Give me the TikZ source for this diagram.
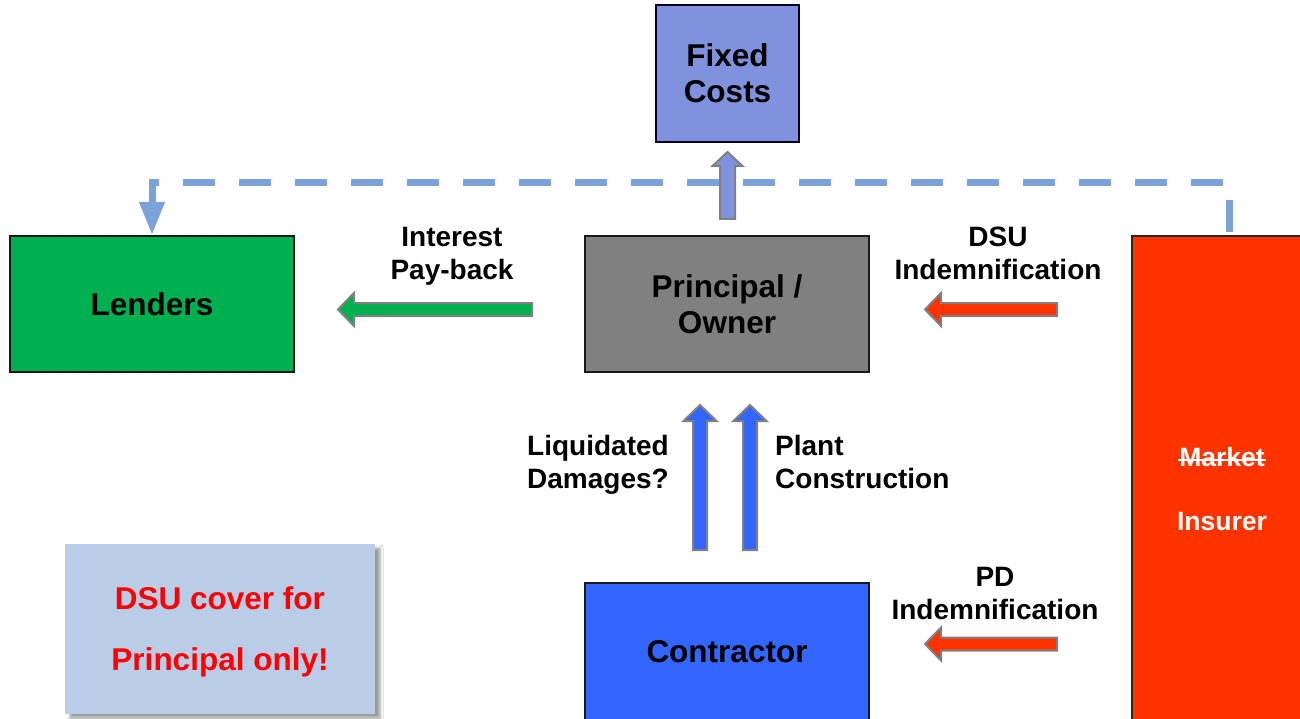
\documentclass[tikz,border=0pt]{standalone}
\usepackage{fontspec}
\setmainfont{Liberation Sans}
\usetikzlibrary{arrows.meta,shadows.blur,calc}

\definecolor{fixedblue}{HTML}{8091DE}
\definecolor{lendgreen}{HTML}{00B050}
\definecolor{ownergray}{HTML}{808080}
\definecolor{contrblue}{HTML}{3366FF}
\definecolor{insred}{HTML}{FF3300}
\definecolor{notebg}{HTML}{B9CDE9}
\definecolor{linkblue}{HTML}{7BA3DA}
\definecolor{alertred}{HTML}{FF0000}

% block arrow pointing left: fill, tail x, tip x, centre y
\newcommand\leftblockarrow[4]{%
  \draw[blockarrow, fill=#1]
    (#2,#4-6.5) -- (#3+16,#4-6.5) -- (#3+16,#4-16.5) -- (#3,#4)
    -- (#3+16,#4+16.5) -- (#3+16,#4+6.5) -- (#2,#4+6.5) -- cycle;}
% block arrow pointing up: fill, centre x, tail y, tip y, shaft half, head half, head length
\newcommand\upblockarrow[7]{%
  \draw[blockarrow, fill=#1]
    (#2-#5,#3) -- (#2-#5,#4+#7) -- (#2-#6,#4+#7) -- (#2,#4)
    -- (#2+#6,#4+#7) -- (#2+#5,#4+#7) -- (#2+#5,#3) -- cycle;}

\tikzset{
  party/.style={draw=black!90, line width=2pt, inner sep=0pt, align=center,
    font=\fontsize{31.5}{36}\selectfont\bfseries},
  flowlabel/.style={inner sep=0pt, anchor=north, align=center,
    font=\fontsize{28}{33}\selectfont\bfseries},
  insurertext/.style={inner sep=0pt, text=white,
    font=\fontsize{26.5}{30}\selectfont\bfseries},
  blockarrow/.style={draw=ownergray, line width=2pt, line join=miter},
  funding/.style={draw=linkblue, line width=7pt, dash pattern=on 32pt off 24pt,
    line join=miter, -{Triangle[width=24pt,length=33pt]}},
}

\begin{document}
\begin{tikzpicture}[x=1pt,y=-1pt]
  \fill[white] (0,0) rectangle (1300,719);
  \useasboundingbox (0,0) rectangle (1300,719);

  % parties
  \node[party, fill=fixedblue, draw=black!85!blue, minimum width=143pt, minimum height=137pt]
    (fixed) at (727.5,73.5) {Fixed\\Costs};
  \node[party, fill=lendgreen, minimum width=284pt, minimum height=136pt]
    (lenders) at (152,304) {Lenders};
  \node[party, fill=ownergray, minimum width=284pt, minimum height=136pt]
    (owner) at (727,304) {Principal /\\Owner};
  \node[party, fill=contrblue, minimum width=284pt, minimum height=137pt]
    (contractor) at (727,651.5) {Contractor};
  \node[party, fill=insred, draw=black!85, minimum width=195pt, minimum height=500pt]
    (insurer) at (1229.5,486) {};
  \node[insurertext] (market) at (1222,457) {Market};
  \node[insurertext] (insname) at (1222,522) {Insurer};
  \draw[white, line width=1.5pt] ($(market.west)+(-1,3)$) -- ($(market.east)+(1,3)$);

  % note
  \node[fill=notebg, minimum width=310pt, minimum height=170pt, inner sep=0pt,
        blur shadow={shadow xshift=5pt, shadow yshift=-4pt, shadow blur radius=3pt},
        text=alertred, align=center, text depth=0pt,
        font=\fontsize{31.5}{61}\selectfont\bfseries]
    (note) at (220,629) {DSU cover for\\Principal only!};

  % DSU payment line from the insurer to the lenders
  \coordinate (dashtop) at (0,183);
  \draw[funding] ([yshift=3pt]insurer.north) -- (insurer.north |- dashtop)
    -- (lenders.north |- dashtop) -- (lenders.north);

  % flows
  \upblockarrow{fixedblue}{727.5}{219}{152}{7.5}{15}{14}
  \leftblockarrow{lendgreen}{532}{338}{309.5}
  \leftblockarrow{insred}{1057}{925}{309.5}
  \leftblockarrow{insred}{1057}{925}{644}
  \upblockarrow{contrblue}{700}{550}{405}{7}{16.5}{16}
  \upblockarrow{contrblue}{750}{550}{405}{7}{16.5}{16}

  % flow labels
  \node[flowlabel] (lblint) at (452,227) {Interest\\Pay-back};
  \node[flowlabel] (lbldsu) at (998,227) {DSU\\Indemnification};
  \node[flowlabel] (lblld) at (598,435) {Liquidated\\Damages?};
  \node[flowlabel, anchor=north west, align=left] (lblpc) at (775,435) {Plant\\Construction};
  \node[flowlabel] (lblpd) at (995,567) {PD\\Indemnification};
\end{tikzpicture}
\end{document}
